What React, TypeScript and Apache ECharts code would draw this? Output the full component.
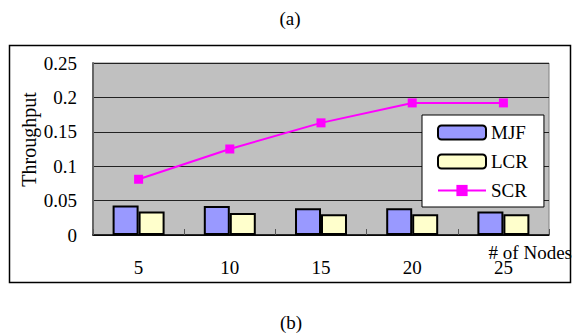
import React, { useEffect, useRef } from "react";
import * as echarts from "echarts";

const categories = ["5", "10", "15", "20", "25"];
const mjf = [0.043, 0.042, 0.039, 0.039, 0.034];
const lcr = [0.034, 0.032, 0.030, 0.030, 0.030];
const scr = [0.081, 0.125, 0.163, 0.192, 0.192];

const FAM = "Liberation Serif";
const F = (s: number) => `${s}px "Liberation Serif"`;

export default function App() {
  const ref = useRef<HTMLDivElement>(null);
  useEffect(() => {
    const chart = echarts.init(ref.current!, undefined, { renderer: "svg" });
    chart.setOption({
      animation: false,
      backgroundColor: "#ffffff",
      textStyle: { fontFamily: FAM },
      grid: {
        left: 93,
        top: 63,
        right: 24,
        bottom: 98,
        show: true,
        backgroundColor: "#C0C0C0",
        borderColor: "#808080",
        borderWidth: 1,
      },
      legend: {
        orient: "vertical",
        left: 422,
        top: 115,
        padding: [8, 16, 7, 15],
        itemWidth: 48,
        itemHeight: 14,
        itemGap: 10,
        backgroundColor: "#ffffff",
        borderColor: "#000000",
        borderWidth: 1,
        textStyle: { fontFamily: FAM, fontSize: 19, color: "#000" },
        data: ["MJF", "LCR", "SCR"],
      },
      xAxis: {
        type: "category",
        data: categories,
        axisLine: { lineStyle: { color: "#000", width: 1.5 } },
        axisTick: { show: true, inside: true, length: 6, lineStyle: { color: "#555" } },
        axisLabel: { fontFamily: FAM, fontSize: 19, color: "#000", margin: 23 },
      },
      yAxis: {
        type: "value",
        min: 0,
        max: 0.25,
        interval: 0.05,
        axisLine: { show: true, lineStyle: { color: "#666", width: 2 } },
        axisTick: { show: false },
        axisLabel: { fontFamily: FAM, fontSize: 19, color: "#000", margin: 16 },
        splitLine: { lineStyle: { color: "#222", width: 1 } },
      },
      series: [
        {
          name: "MJF",
          type: "bar",
          data: mjf,
          barGap: "0%",
          barCategoryGap: "43%",
          itemStyle: { color: "#9999FF", borderColor: "#000", borderWidth: 2 },
        },
        {
          name: "LCR",
          type: "bar",
          data: lcr,
          itemStyle: { color: "#FFFFCC", borderColor: "#000", borderWidth: 2 },
        },
        {
          name: "SCR",
          type: "line",
          data: scr,
          symbol: "rect",
          symbolSize: 9,
          lineStyle: { color: "#FF00FF", width: 2 },
          itemStyle: { color: "#FF00FF" },
        },
      ],
      graphic: [
        {
          type: "rect",
          shape: { x: 9.5, y: 45.5, width: 561, height: 237 },
          style: { fill: "none", stroke: "#000", lineWidth: 1.5 },
          z: -1,
        },
        {
          type: "text",
          x: 290,
          y: 18,
          style: { text: "(a)", font: F(19), fill: "#000", textAlign: "center", textVerticalAlign: "middle" },
        },
        {
          type: "text",
          x: 291,
          y: 322,
          style: { text: "(b)", font: F(19), fill: "#000", textAlign: "center", textVerticalAlign: "middle" },
        },
        {
          type: "text",
          x: 28.5,
          y: 139.5,
          rotation: Math.PI / 2,
          style: { text: "Throughput", font: F(20), fill: "#000", textAlign: "center", textVerticalAlign: "middle" },
        },
        {
          type: "text",
          x: 572,
          y: 252,
          style: { text: "# of Nodes", font: F(19), fill: "#000", textAlign: "right", textVerticalAlign: "middle" },
          z: 10,
        },
      ],
    });
    return () => chart.dispose();
  }, []);
  return (
    <div
      ref={ref}
      style={{ position: "fixed", left: 0, top: 0, width: 573, height: 333 }}
    />
  );
}
